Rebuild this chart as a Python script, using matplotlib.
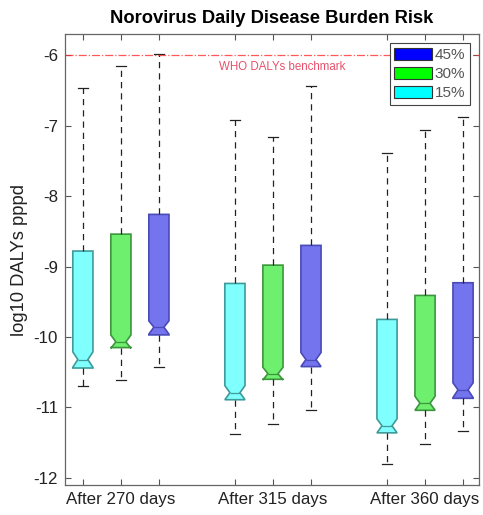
import matplotlib
matplotlib.use("Agg")
import matplotlib.pyplot as plt
from matplotlib.patches import Patch

plt.rcParams['font.family'] = ['Liberation Sans', 'DejaVu Sans']

# ---- data ----
groups = ["After 270 days", "After 315 days", "After 360 days"]
series = ["15%", "30%", "45%"]
positions = [1, 2, 3, 5, 6, 7, 9, 10, 11]

whis_hi = [-6.47, -6.16, -5.99, -6.92, -7.16, -6.44, -7.39, -7.06, -6.88]
q3      = [-8.78, -8.54, -8.26, -9.24, -8.98, -8.70, -9.75, -9.41, -9.23]
ci_hi   = [-10.21, -9.97, -9.77, -10.69, -10.43, -10.22, -11.16, -10.84, -10.65]
median  = [-10.32, -10.07, -9.86, -10.79, -10.52, -10.32, -11.26, -10.94, -10.75]
ci_lo   = [-10.43, -10.16, -9.96, -10.89, -10.61, -10.42, -11.36, -11.04, -10.86]
q1      = [-10.44, -10.15, -9.97, -10.89, -10.60, -10.42, -11.36, -11.04, -10.87]
whis_lo = [-10.70, -10.61, -10.43, -11.37, -11.23, -11.04, -11.80, -11.52, -11.34]

benchmark = -6.0
benchmark_label = "WHO DALYs benchmark"
ylim = (-12.1, -5.7)
yticks = [-12, -11, -10, -9, -8, -7, -6]

fill_colors = {"15%": "#80ffff", "30%": "#6ef06e", "45%": "#7474ee"}
edge_colors = {"15%": "#3f9a9a", "30%": "#3d963d", "45%": "#4a4ab8"}
legend_colors = {"45%": "#0000ff", "30%": "#00ff00", "15%": "#00ffff"}

# ---- figure ----
fig = plt.figure(figsize=(4.83, 5.15), dpi=100)
ax = fig.add_axes([65 / 483, 1 - 485 / 515, (479 - 65) / 483, (485 - 34) / 515])

stats = []
for i in range(len(positions)):
    stats.append(dict(med=median[i], q1=q1[i], q3=q3[i], whislo=whis_lo[i],
                      whishi=whis_hi[i], cilo=ci_lo[i], cihi=ci_hi[i], fliers=[]))

bp = ax.bxp(stats, positions=positions, widths=0.53, capwidths=0.26,
            shownotches=True, patch_artist=True, showfliers=False,
            whiskerprops=dict(color='#222222', linestyle=(0, (5, 4)), linewidth=0.9),
            capprops=dict(color='#222222', linewidth=0.9),
            medianprops=dict(linewidth=0.9))

for i, box in enumerate(bp['boxes']):
    s = series[i % 3]
    box.set_facecolor(fill_colors[s])
    box.set_edgecolor(edge_colors[s])
    box.set_linewidth(1.2)
    bp['medians'][i].set_color(edge_colors[s])

ax.axhline(benchmark, color='#ff3030', linestyle='-.', linewidth=0.9, alpha=0.8)
ax.text(6.25, benchmark - 0.08, benchmark_label, color='#e8506a', fontsize=8.3,
        ha='center', va='top')

ax.set_xlim(0.53, 11.42)
ax.set_ylim(*ylim)
ax.set_yticks(yticks)
ax.set_yticklabels([str(t) for t in yticks])
ax.set_xticks(positions)
xlabels = []
for i in range(len(positions)):
    xlabels.append(groups[i // 3] if i % 3 == 1 else "")
ax.set_xticklabels(xlabels)

ax.tick_params(direction='in', length=4, width=0.8, colors='#555555',
               labelcolor='#222222', labelsize=12.2, top=True, right=True, pad=5)
for sp in ax.spines.values():
    sp.set_color('#666666')
    sp.set_linewidth(0.9)

ax.set_ylabel("log10 DALYs pppd", fontsize=13.2, color='#222222', labelpad=4)
ax.set_title("Norovirus Daily Disease Burden Risk", fontsize=13.2,
             fontweight='bold', pad=8)

handles = [Patch(facecolor=legend_colors[s], edgecolor='#333333', linewidth=0.8)
           for s in ["45%", "30%", "15%"]]
leg = ax.legend(handles, ["45%", "30%", "15%"], loc='upper right', fontsize=11,
                handlelength=2.5, handleheight=0.85, handletextpad=0.15,
                labelspacing=0.3, borderpad=0.3, borderaxespad=0.6,
                fancybox=False, framealpha=1)
leg.get_frame().set_edgecolor('#444444')
leg.get_frame().set_linewidth(0.8)
for t in leg.get_texts():
    t.set_color('#555555')

fig.savefig("out.png", dpi=100)
